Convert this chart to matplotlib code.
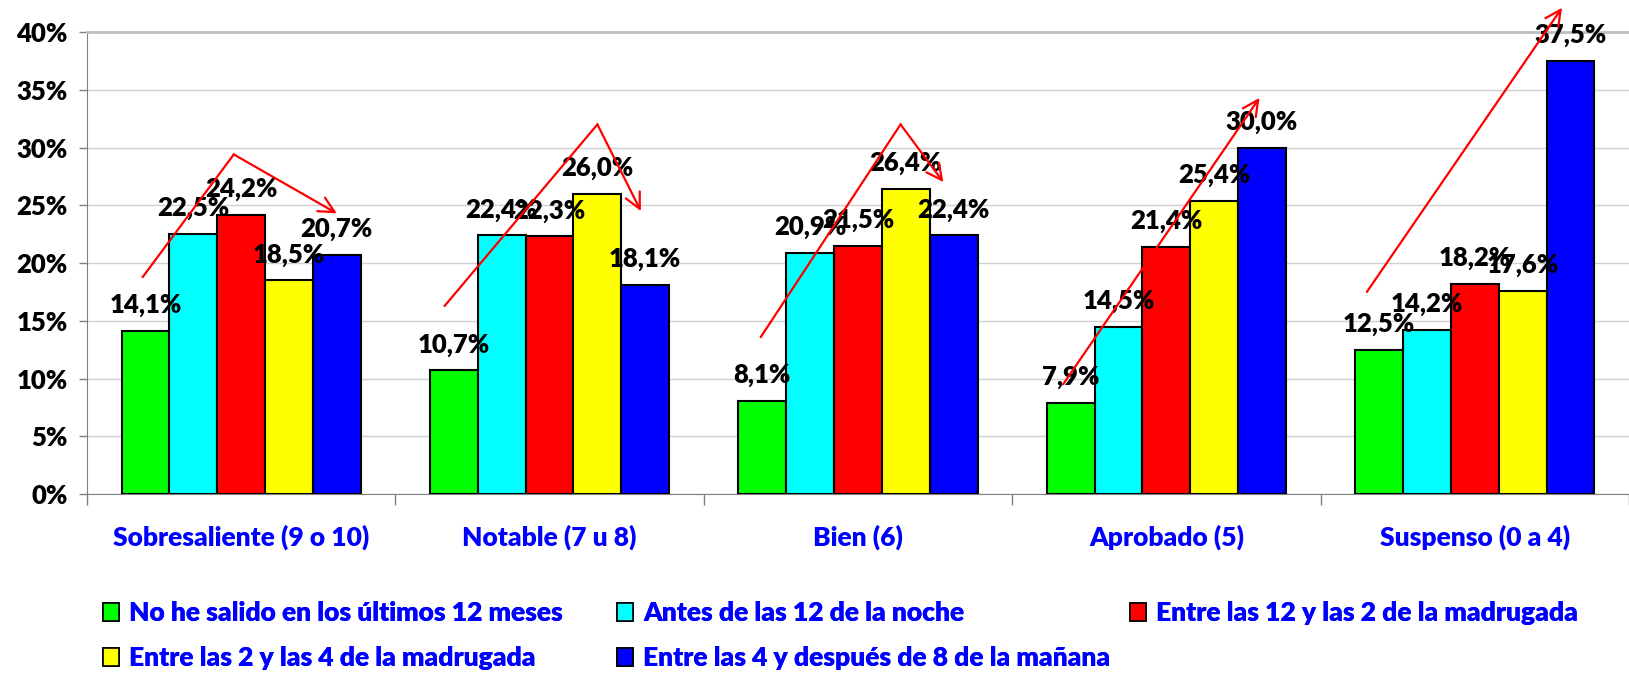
import matplotlib.pyplot as plt
import numpy as np
from matplotlib.patches import Patch

plt.rcParams['font.family'] = ['Lato', 'DejaVu Sans']

categories = ['Sobresaliente (9 o 10)', 'Notable (7 u 8)', 'Bien (6)',
              'Aprobado (5)', 'Suspenso (0 a 4)']
series_names = ['No he salido en los últimos 12 meses',
                'Antes de las 12 de la noche',
                'Entre las 12 y las 2 de la madrugada',
                'Entre las 2 y las 4 de la madrugada',
                'Entre las 4 y después de 8 de la mañana']
no_salido = [14.1, 10.7, 8.1, 7.9, 12.5]
antes_12 = [22.5, 22.4, 20.9, 14.5, 14.2]
entre_12_2 = [24.2, 22.3, 21.5, 21.4, 18.2]
entre_2_4 = [18.5, 26.0, 26.4, 25.4, 17.6]
entre_4_8 = [20.7, 18.1, 22.4, 30.0, 37.5]

# red trend arrows drawn over each group (x in category units, y in %)
trend_paths = [
    [(-0.319, 18.8), (-0.024, 29.4), (0.31, 24.3)],
    [(0.66, 16.3), (1.155, 32.0), (1.296, 24.5)],
    [(1.685, 13.6), (2.138, 32.0), (2.277, 27.0)],
    [(2.665, 9.5), (3.302, 34.3)],
    [(3.65, 17.5), (4.283, 42.1)],
]

colors = ['#00FF00', '#00FFFF', '#FF0000', '#FFFF00', '#0000FF']
series = [no_salido, antes_12, entre_12_2, entre_2_4, entre_4_8]

FS = 18.5
FS_BLUE = 19
WEIGHT = 'heavy'

fig = plt.figure(figsize=(16.29, 6.75), dpi=100)
ax = fig.add_axes([0.0534, 0.268, 0.9466, 0.6846])

x = np.arange(len(categories))
width = 0.155
for i, (vals, col, name) in enumerate(zip(series, colors, series_names)):
    pos = x + (i - 2) * width
    ax.bar(pos, vals, width, color=col, edgecolor='black', linewidth=1.5,
           label=name, zorder=3)
    for px, v in zip(pos, vals):
        ax.annotate(f'{v:.1f}%'.replace('.', ','), (px, v), xytext=(0, 13),
                    textcoords='offset points', ha='center', va='baseline',
                    fontsize=FS, fontweight=WEIGHT, color='black', zorder=5)

for path in trend_paths:
    xs = [p[0] for p in path]
    ys = [p[1] for p in path]
    if len(path) > 2:
        ax.plot(xs[:-1], ys[:-1], color='red', lw=1.6, zorder=6, clip_on=False)
    ax.annotate('', xy=path[-1], xytext=path[-2],
                arrowprops=dict(arrowstyle='->', color='red', lw=1.6,
                                mutation_scale=28, shrinkA=0, shrinkB=0),
                zorder=6, annotation_clip=False)

ax.set_xlim(-0.5, 4.5)
ax.set_ylim(0, 40)
ax.set_yticks(np.arange(0, 41, 5))
ax.set_yticklabels([f'{t}%' for t in range(0, 41, 5)])
ax.tick_params(axis='y', labelsize=FS, length=6, width=1, color='#808080', pad=8)
ax.set_xticks(x)
ax.set_xticklabels(categories)
ax.tick_params(axis='x', which='major', length=0, pad=22, labelsize=FS_BLUE,
               labelcolor='#0000FF')
ax.set_xticks(np.arange(-0.5, 5, 1), minor=True)
ax.tick_params(axis='x', which='minor', length=8, width=1, color='#808080')
for lab in ax.get_xticklabels() + ax.get_yticklabels():
    lab.set_fontweight(WEIGHT)

ax.yaxis.grid(True, color='#D0D0D0', lw=1, zorder=0)
ax.set_axisbelow(True)
ax.spines['right'].set_visible(False)
ax.spines['top'].set_color('#BEBEBE')
ax.spines['top'].set_linewidth(2)
ax.spines['left'].set_color('#808080')
ax.spines['bottom'].set_color('#808080')

handles = [Patch(facecolor=c, edgecolor='black', linewidth=1.2) for c in colors]
columns = [([0, 3], 0.0632), ([1, 4], 0.3788), ([2], 0.6937)]
for idx, xpos in columns:
    leg = fig.legend([handles[k] for k in idx], [series_names[k] for k in idx],
                     loc='upper left', bbox_to_anchor=(xpos, 0.109),
                     frameon=False, borderpad=0, borderaxespad=0,
                     handlelength=0.6, handleheight=0.7, handletextpad=0.38,
                     labelspacing=0.78, labelcolor='#0000FF',
                     prop={'weight': WEIGHT, 'size': FS_BLUE})
    fig.add_artist(leg)

fig.savefig('out.png', dpi=100)
